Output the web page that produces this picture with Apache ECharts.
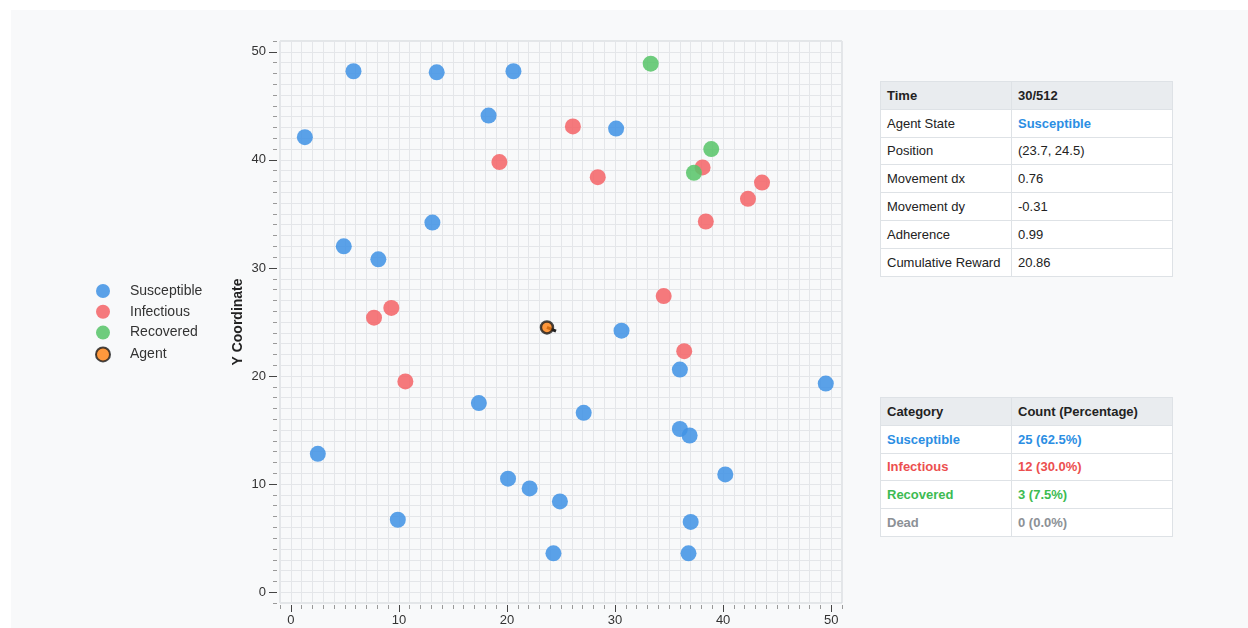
<!DOCTYPE html>
<html>
<head>
<meta charset="utf-8">
<script src="https://cdn.jsdelivr.net/npm/echarts@6/dist/echarts.min.js"></script>
<style>
    html,body{margin:0;padding:0;background:#fff;width:1248px;height:628px;overflow:hidden;font-family:"Liberation Sans",Arial,sans-serif;}
    #panel{position:absolute;left:11px;top:10px;width:1237px;height:618px;background:#f8f9fa;}
    #chart{position:absolute;left:0;top:0;width:1248px;height:628px;}
    table{position:absolute;border-collapse:collapse;background:#fff;font-size:13px;color:#222;width:293px;}
    td{border:1px solid #dee2e6;height:27.8px;padding:0 6px;box-sizing:border-box;}
    td.c1{width:131px;}
    tr.head td{background:#e9ecef;font-weight:bold;}
    .b{font-weight:bold;}
</style>
</head>
<body>
<div id="panel"></div>
<div id="chart"></div>
<table id="infoTable" style="left:880px;top:81px;"></table>
<table id="countTable" style="left:880px;top:397px;"></table>
<script>
// 数据
var susceptibleX = [1.3, 5.8, 13.5, 20.6, 18.3, 30.1, 4.9, 8.1, 13.1, 30.6, 36.0, 49.5, 17.4, 27.1, 2.5, 36.0, 36.9, 20.1, 22.1, 24.9, 40.2, 9.9, 37.0, 24.3, 36.8];
var susceptibleY = [42.1, 48.2, 48.1, 48.2, 44.1, 42.9, 32.0, 30.8, 34.2, 24.2, 20.6, 19.3, 17.5, 16.6, 12.8, 15.1, 14.5, 10.5, 9.6, 8.4, 10.9, 6.7, 6.5, 3.6, 3.6];
var infectiousX = [26.1, 19.3, 28.4, 38.1, 43.6, 42.3, 38.4, 34.5, 9.3, 7.7, 36.4, 10.6];
var infectiousY = [43.1, 39.8, 38.4, 39.3, 37.9, 36.4, 34.3, 27.4, 26.3, 25.4, 22.3, 19.5];
var recoveredX = [33.3, 38.9, 37.3];
var recoveredY = [48.9, 41.0, 38.8];
var agentPos = [23.7, 24.5];
var agentMove = [0.76, -0.31];
var tickValues = [0, 10, 20, 30, 40, 50];

var infoRows = [
    ['Agent State', 'Susceptible'],
    ['Position', '(23.7, 24.5)'],
    ['Movement dx', '0.76'],
    ['Movement dy', '-0.31'],
    ['Adherence', '0.99'],
    ['Cumulative Reward', '20.86']
];
var categories = ['Susceptible', 'Infectious', 'Recovered', 'Dead'];
var counts = [25, 12, 3, 0];
var catColors = ['#2b8ee3', '#ec4f4f', '#3dbb52', '#8c9196'];
var total = 40;

function zip(xs, ys){
    var out = [];
    for(var i=0;i<xs.length;i++){
        out.push([xs[i], ys[i]]);
    }
    return out;
}

// 表格
var html = '<tr class="head"><td class="c1">Time</td><td>30/512</td></tr>';
for(var i=0;i<infoRows.length;i++){
    var v = infoRows[i][1];
    if(i==0){
        v = '<span class="b" style="color:#2b8ee3">'+v+'</span>';
    }
    html += '<tr><td class="c1">'+infoRows[i][0]+'</td><td>'+v+'</td></tr>';
}
document.getElementById('infoTable').innerHTML = html;

html = '<tr class="head"><td class="c1">Category</td><td>Count (Percentage)</td></tr>';
for(var i=0;i<categories.length;i++){
    var pct = (counts[i]/total*100).toFixed(1);
    html += '<tr class="b" style="color:'+catColors[i]+'"><td class="c1">'+categories[i]+'</td><td>'+counts[i]+' ('+pct+'%)</td></tr>';
}
document.getElementById('countTable').innerHTML = html;

// 图表
var myChart = echarts.init(document.getElementById('chart'));
var arrowScale = 1.1;
var agentTip = [agentPos[0]+agentMove[0]*arrowScale, agentPos[1]+agentMove[1]*arrowScale];
var font = '"Liberation Sans", Arial, sans-serif';

function makeAxis(isMain, pos, name){
    var isX = pos == 'bottom';
    return {
        type: 'value',
        position: pos,
        min: -1,
        max: 51,
        interval: 1,
        offset: isX ? 2 : 3,
        name: isMain ? name : '',
        nameLocation: 'middle',
        nameGap: 32,
        nameTextStyle: {fontSize: 14, fontWeight: 'bold', color: '#222', fontFamily: font},
        axisLine: {show: false, onZero: false},
        axisTick: isMain ? {show: true, inside: false, length: isX ? 7 : 8, customValues: tickValues, lineStyle: {color: '#444', width: 1}}
                         : {show: true, inside: false, length: 4, lineStyle: {color: '#999', width: 1}},
        axisLabel: isMain ? {show: true, customValues: tickValues, fontSize: 13, color: '#333', fontFamily: font, margin: isX ? 9 : 11}
                          : {show: false},
        splitLine: isMain ? {show: false} : {show: true, lineStyle: {color: '#e4e6e9', width: 1}}
    };
}

var option = {
    backgroundColor: 'transparent',
    animation: false,
    grid: {
        left: 280,
        top: 41,
        width: 562,
        height: 562,
        show: true,
        borderColor: '#cfd2d6',
        borderWidth: 1,
        backgroundColor: 'transparent'
    },
    legend: {
        orient: 'vertical',
        left: 90,
        top: 279,
        itemWidth: 40,
        itemHeight: 14,
        itemGap: 6.8,
        textStyle: {fontSize: 14, color: '#333', fontFamily: font, padding: [0, 0, 0, 2]},
        data: ['Susceptible', 'Infectious', 'Recovered', 'Agent']
    },
    xAxis: [makeAxis(false, 'bottom', ''), makeAxis(true, 'bottom', '')],
    yAxis: [makeAxis(false, 'left', ''), makeAxis(true, 'left', 'Y Coordinate')],
    series: [
        {
            name: 'Susceptible',
            type: 'scatter',
            symbolSize: 16,
            data: zip(susceptibleX, susceptibleY),
            itemStyle: {color: '#4394e5', opacity: 0.88}
        },
        {
            name: 'Infectious',
            type: 'scatter',
            symbolSize: 16,
            data: zip(infectiousX, infectiousY),
            itemStyle: {color: '#f4676a', opacity: 0.88}
        },
        {
            name: 'Recovered',
            type: 'scatter',
            symbolSize: 16,
            data: zip(recoveredX, recoveredY),
            itemStyle: {color: '#5ac56b', opacity: 0.88}
        },
        {
            name: 'move',
            type: 'line',
            data: [agentPos, agentTip],
            showSymbol: true,
            symbol: ['none', 'arrow'],
            symbolSize: 0,
            lineStyle: {color: '#222', width: 3},
            z: 3
        },
        {
            name: 'Agent',
            type: 'scatter',
            symbolSize: 12,
            data: [agentPos],
            itemStyle: {color: '#ff7f0e', borderColor: '#1a1a1a', borderWidth: 2.5},
            z: 4
        }
    ]
};
myChart.setOption(option);
</script>
</body>
</html>
